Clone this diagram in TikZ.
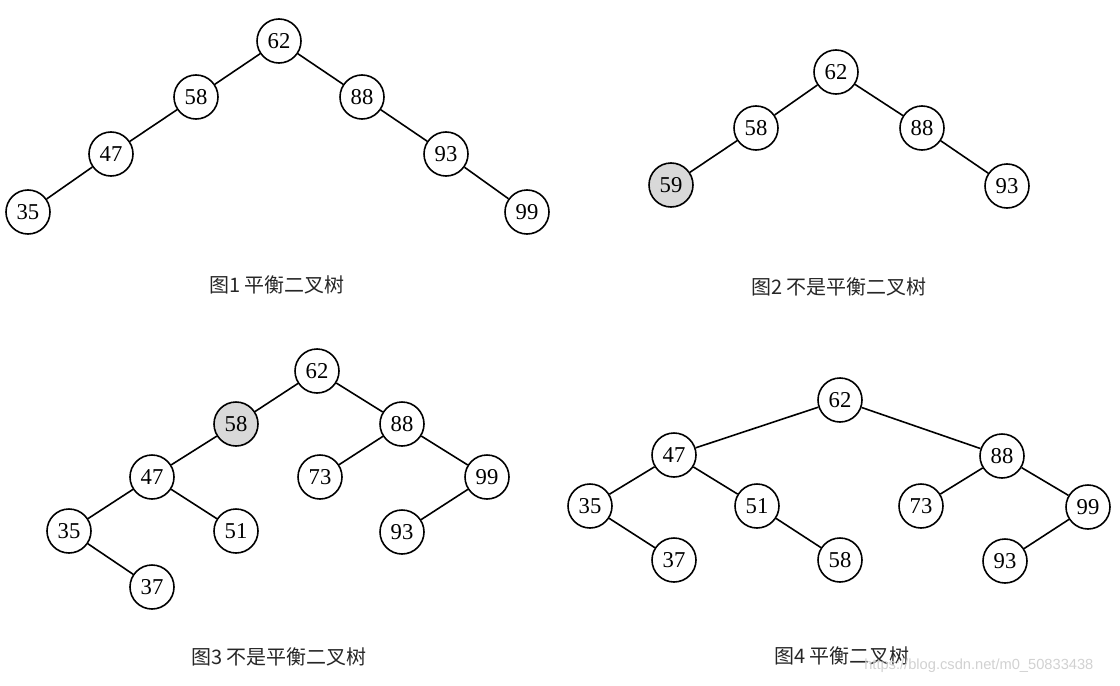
\documentclass[tikz,border=0pt]{standalone}
\usepackage{fontspec}
\setmainfont{Liberation Serif}
\newfontfamily\cjk{Noto Sans CJK SC}
\newfontfamily\wmfont{Liberation Sans}
\begin{document}
\begin{tikzpicture}[x=0.75pt,y=-0.75pt,
  nd/.style={circle,draw=black,line width=1.2pt,fill=white,minimum size=33pt,inner sep=0pt,font=\fontsize{17}{19}\selectfont},
  hl/.style={nd,fill=black!15},
  ed/.style={line width=1.2pt},
  captxt/.style={font=\cjk\fontsize{15}{18}\selectfont,text=black!85}]
\useasboundingbox (0,0) rectangle (1120,685);
% Tree 1
\node[nd] (a62) at (279,41) {62};
\node[nd] (a58) at (196,97) {58};
\node[nd] (a88) at (362,97) {88};
\node[nd] (a47) at (111,154) {47};
\node[nd] (a93) at (446,154) {93};
\node[nd] (a35) at (28,212) {35};
\node[nd] (a99) at (527,212) {99};
\draw[ed] (a62)--(a58) (a58)--(a47) (a47)--(a35) (a62)--(a88) (a88)--(a93) (a93)--(a99);
\node[captxt] (c1) at (277,285) {图1 平衡二叉树};
% Tree 2
\node[nd] (b62) at (836,72) {62};
\node[nd] (b58) at (756,128) {58};
\node[nd] (b88) at (922,128) {88};
\node[hl] (b59) at (671,185) {59};
\node[nd] (b93) at (1007,186) {93};
\draw[ed] (b62)--(b58) (b58)--(b59) (b62)--(b88) (b88)--(b93);
\node[captxt] (c2) at (839,287) {图2 不是平衡二叉树};
% Tree 3
\node[nd] (d62) at (317,371) {62};
\node[hl] (d58) at (236,424) {58};
\node[nd] (d88) at (402,424) {88};
\node[nd] (d47) at (152,477) {47};
\node[nd] (d73) at (320,477) {73};
\node[nd] (d99) at (487,477) {99};
\node[nd] (d35) at (69,531) {35};
\node[nd] (d51) at (236,531) {51};
\node[nd] (d93) at (402,532) {93};
\node[nd] (d37) at (152,587) {37};
\draw[ed] (d62)--(d58) (d58)--(d47) (d47)--(d35) (d47)--(d51) (d35)--(d37)
  (d62)--(d88) (d88)--(d73) (d88)--(d99) (d99)--(d93);
\node[captxt] (c3) at (279,657) {图3 不是平衡二叉树};
% Tree 4
\node[nd] (e62) at (840,400) {62};
\node[nd] (e47) at (674,455) {47};
\node[nd] (e88) at (1002,456) {88};
\node[nd] (e35) at (590,506) {35};
\node[nd] (e51) at (757,506) {51};
\node[nd] (e73) at (921,506) {73};
\node[nd] (e99) at (1088,507) {99};
\node[nd] (e37) at (674,560) {37};
\node[nd] (e58) at (840,560) {58};
\node[nd] (e93) at (1005,561) {93};
\draw[ed] (e62)--(e47) (e47)--(e35) (e35)--(e37) (e47)--(e51) (e51)--(e58)
  (e62)--(e88) (e88)--(e73) (e88)--(e99) (e99)--(e93);
\node[captxt] (c4) at (842,656) {图4 平衡二叉树};
\node[font=\wmfont\fontsize{11}{13}\selectfont,text=black!18,anchor=west,inner sep=0pt] (wm) at (864,666) {https://blog.csdn.net/m0\_50833438};
\end{tikzpicture}
\end{document}
